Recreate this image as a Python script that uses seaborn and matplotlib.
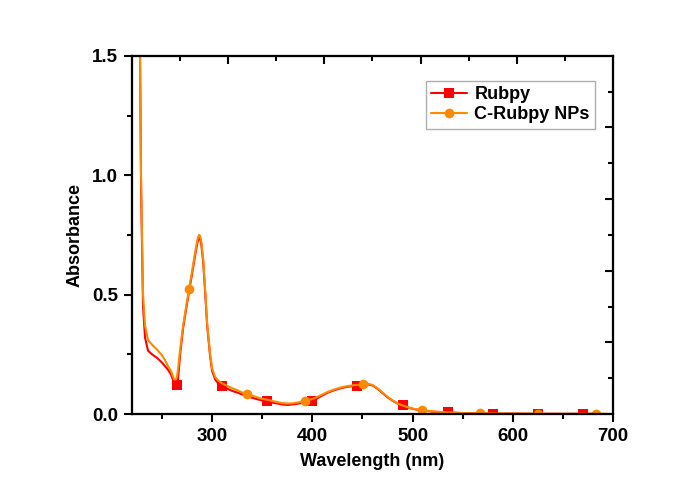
"""UV-vis absorbance of Rubpy vs C-Rubpy NPs."""
import matplotlib
matplotlib.use("Agg")
import matplotlib.pyplot as plt
import seaborn as sns
from matplotlib.ticker import MultipleLocator

# wavelength grid (nm), shared by both spectra
wavelength = [220, 224, 226, 228, 229, 231, 233, 236, 240, 245, 250, 253, 256, 259,
              262, 264, 265, 266, 268, 271, 274, 277, 280, 283, 285, 286, 287, 288, 289, 291,
              293, 295, 298, 300, 303, 306, 310, 315, 320, 325, 330, 335, 340, 345,
              350, 355, 360, 365, 370, 375, 380, 385, 390, 393, 395, 400, 405, 410,
              415, 420, 425, 430, 435, 440, 445, 451, 455, 460, 465, 470, 475, 480,
              485, 490, 495, 500, 505, 509, 520, 535, 550, 567, 580, 600, 625, 650,
              670, 683, 700]

rubpy = [3.0, 2.3, 1.9, 1.5, 0.95, 0.45, 0.32, 0.265, 0.25, 0.235, 0.215, 0.2, 0.185, 0.165,
         0.13, 0.122, 0.12, 0.15, 0.25, 0.36, 0.44, 0.515, 0.59, 0.665, 0.712, 0.73, 0.738, 0.733, 0.715, 0.64,
         0.51, 0.37, 0.24, 0.18, 0.145, 0.128, 0.116, 0.106, 0.097, 0.09, 0.082, 0.075, 0.068, 0.062,
         0.057, 0.053, 0.048, 0.044, 0.04, 0.038, 0.04, 0.043, 0.047, 0.049, 0.05, 0.053, 0.066, 0.078,
         0.089, 0.097, 0.104, 0.11, 0.114, 0.117, 0.119, 0.123, 0.124, 0.12, 0.106, 0.088, 0.07, 0.056,
         0.044, 0.036, 0.028, 0.022, 0.018, 0.015, 0.01, 0.007, 0.004, 0.003, 0.002, 0.002, 0.001, 0.001,
         0.001, 0.001, 0.0]

c_rubpy = [3.0, 2.3, 1.9, 1.5, 1.0, 0.5, 0.37, 0.31, 0.29, 0.27, 0.245, 0.225, 0.2, 0.18,
           0.145, 0.145, 0.16, 0.19, 0.27, 0.37, 0.45, 0.525, 0.6, 0.677, 0.724, 0.742, 0.75, 0.745, 0.727, 0.652,
           0.52, 0.38, 0.25, 0.19, 0.155, 0.14, 0.128, 0.118, 0.108, 0.1, 0.09, 0.084, 0.077, 0.07,
           0.064, 0.06, 0.055, 0.05, 0.046, 0.044, 0.045, 0.048, 0.053, 0.056, 0.058, 0.063, 0.072, 0.082,
           0.092, 0.1, 0.107, 0.113, 0.117, 0.12, 0.122, 0.125, 0.127, 0.122, 0.108, 0.09, 0.072, 0.057,
           0.045, 0.036, 0.029, 0.023, 0.019, 0.016, 0.011, 0.007, 0.004, 0.003, 0.002, 0.002, 0.001, 0.001,
           0.001, 0.001, 0.0]

# wavelengths where the symbols sit
rubpy_marks = [265, 310, 355, 400, 445, 490, 535, 580, 625, 670]
c_rubpy_marks = [277, 335, 393, 451, 509, 567, 625, 683]

sns.set_style("white")
plt.rcParams["font.family"] = ["Liberation Sans", "DejaVu Sans"]
plt.rcParams["font.weight"] = "bold"
plt.rcParams["text.color"] = "black"
plt.rcParams["axes.labelcolor"] = "black"
plt.rcParams["xtick.color"] = "black"
plt.rcParams["ytick.color"] = "black"

fig = plt.figure(figsize=(7, 4.9), dpi=100)
ax = fig.add_axes([0.1886, 0.155, 0.687, 0.731])

sns.lineplot(x=wavelength, y=rubpy, ax=ax, color="#FF0000", lw=1.5, marker="s",
             markersize=6.5, markeredgewidth=0, label="Rubpy", sort=False,
             markevery=[wavelength.index(w) for w in rubpy_marks])
sns.lineplot(x=wavelength, y=c_rubpy, ax=ax, color="#FF8A00", lw=1.5, marker="o",
             markersize=7, markeredgewidth=0, label="C-Rubpy NPs", sort=False,
             markevery=[wavelength.index(w) for w in c_rubpy_marks])

ax.set_xlim(220, 700)
ax.set_ylim(0, 1.5)
ax.xaxis.set_major_locator(MultipleLocator(100))
ax.xaxis.set_minor_locator(MultipleLocator(50))
ax.yaxis.set_major_locator(MultipleLocator(0.5))
ax.yaxis.set_minor_locator(MultipleLocator(0.25))
ax.tick_params(which="major", direction="out", length=6, width=1.5, labelsize=13.5, pad=4)
ax.tick_params(which="minor", direction="out", length=3.5, width=1.5)
ax.set_xlabel("Wavelength (nm)", fontsize=13, fontweight="bold", labelpad=6)
ax.set_ylabel("Absorbance", fontsize=13, fontweight="bold", labelpad=6)
for s in ax.spines.values():
    s.set_linewidth(1.5)
    s.set_color("black")

# top / right axes have their own inward ticks
top = ax.twiny()
top.set_xlim(220, 700)
top.set_xticks([316, 412, 508, 604])
top.set_xticks([268, 364, 460, 556, 652], minor=True)
top.set_xticklabels([])
top.tick_params(which="major", direction="in", length=6, width=1.5)
top.tick_params(which="minor", direction="in", length=3.5, width=1.5)
right = ax.twinx()
right.set_ylim(0, 1.5)
right.set_yticks([0.3, 0.6, 0.9, 1.2])
right.set_yticks([0.15, 0.45, 0.75, 1.05, 1.35], minor=True)
right.set_yticklabels([])
right.tick_params(which="major", direction="in", length=6, width=1.5)
right.tick_params(which="minor", direction="in", length=3.5, width=1.5)
for a in (top, right):
    for s in a.spines.values():
        s.set_linewidth(1.5)
        s.set_color("black")

leg = ax.legend(loc="upper right", bbox_to_anchor=(0.982, 0.955), fontsize=13,
                frameon=True, fancybox=False, handlelength=2.0, borderpad=0.3,
                labelspacing=0.15, handletextpad=0.4)
leg.get_frame().set_edgecolor("#999999")
leg.get_frame().set_linewidth(1.0)

fig.savefig("out.png", dpi=100)
